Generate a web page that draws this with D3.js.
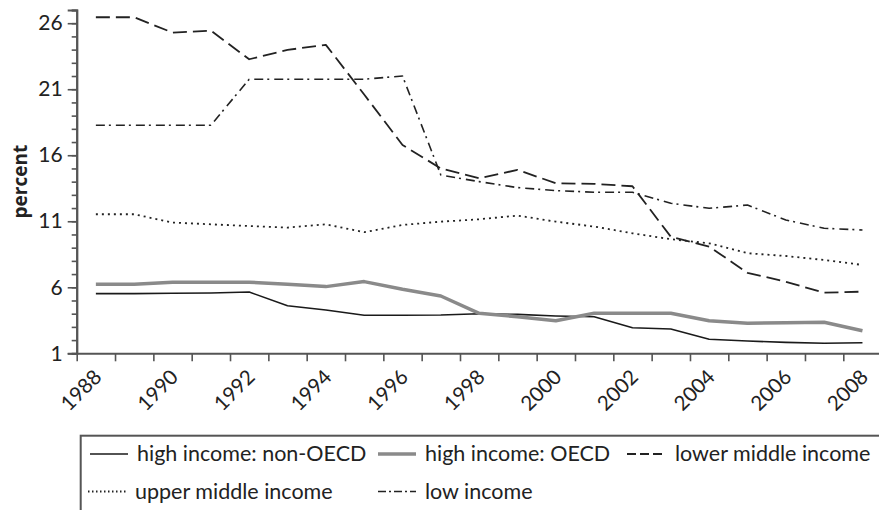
<!DOCTYPE html>
<html>
<head>
<meta charset="utf-8">
<script src="https://cdn.jsdelivr.net/npm/d3@7"></script>
<style>
  body { margin: 0; background: #fff; }
  svg { display: block; }
  text { font-family: Lato, "Open Sans", sans-serif; fill: #222; }
</style>
</head>
<body>
<svg id="chart" width="879" height="510"></svg>
<script>
// data
var years = d3.range(1988, 2009);
var yearLabels = ["1988", "1990", "1992", "1994", "1996", "1998", "2000", "2002", "2004", "2006", "2008"];
var yTicks = [1, 6, 11, 16, 21, 26];

var highNonOECD = [5.52, 5.52, 5.55, 5.57, 5.64, 4.6, 4.28, 3.88, 3.88, 3.9, 4.0, 3.95, 3.83, 3.77, 2.94, 2.84, 2.06, 1.93, 1.83, 1.76, 1.8];
var highOECD = [6.23, 6.23, 6.38, 6.38, 6.38, 6.23, 6.05, 6.43, 5.85, 5.34, 4.03, 3.77, 3.47, 4.03, 4.03, 4.03, 3.47, 3.27, 3.32, 3.35, 2.71];
var lowerMiddle = [26.45, 26.45, 25.29, 25.44, 23.27, 23.98, 24.36, 20.6, 16.78, 15.0, 14.26, 14.89, 13.88, 13.83, 13.65, 9.83, 9.08, 7.1, 6.42, 5.59, 5.67];
var upperMiddle = [11.53, 11.53, 10.9, 10.77, 10.64, 10.52, 10.77, 10.17, 10.72, 10.97, 11.15, 11.43, 10.97, 10.6, 10.09, 9.64, 9.33, 8.58, 8.37, 8.07, 7.69];
var lowIncome = [18.27, 18.27, 18.27, 18.27, 21.76, 21.76, 21.76, 21.76, 22.0, 14.5, 14.0, 13.55, 13.32, 13.2, 13.2, 12.36, 11.98, 12.23, 11.1, 10.47, 10.34];

var seriesNames = ["high income: non-OECD", "high income: OECD", "lower middle income", "upper middle income", "low income"];

(function () {
    // dash: pattern in the plot, keyDash: shorter pattern used in the legend
    var styles = [
        { color: "#1a1a1a", width: 1.6, dash: null, keyDash: null },
        { color: "#8a8a8a", width: 3.5, dash: null, keyDash: null },
        { color: "#222", width: 1.8, dash: "14,6", keyDash: "9,4" },
        { color: "#222", width: 1.8, dash: "2,4", keyDash: "1.5,2.5" },
        { color: "#222", width: 1.6, dash: "9,4,2,5", keyDash: "8,3,2,3" }
    ];
    var allSeries = [highNonOECD, highOECD, lowerMiddle, upperMiddle, lowIncome];

    var svg = d3.select("#chart");
    var left = 76.7, plotTop = 10, bottom = 353.3;
    var step = 38.33;

    // years sit in the middle of each tick interval
    var x = d3.scaleLinear().domain([1987.5, 2008.5]).range([left, left + 21 * step]);
    var y = d3.scaleLinear().domain([1, 27]).range([bottom, plotTop]);

    var axisColor = "#555";

    // y axis with minor ticks
    var yAxis = svg.append("g").attr("transform", "translate(" + left + ",0)");
    yAxis.call(d3.axisLeft(y).tickValues(d3.range(1, 28)).tickSize(5).tickFormat(""));
    yAxis.append("g").call(d3.axisLeft(y).tickValues(yTicks).tickSize(9).tickPadding(5).tickFormat(d3.format("d")));
    yAxis.selectAll("path.domain").attr("stroke", axisColor).attr("stroke-width", 2);
    yAxis.selectAll("line").attr("stroke", axisColor).attr("stroke-width", 1.6);
    yAxis.selectAll("text").style("font-size", "21px").attr("fill", "#222");

    // x axis: ticks at interval edges, labels at even years
    var xAxis = svg.append("g").attr("transform", "translate(0," + bottom + ")");
    xAxis.call(d3.axisBottom(x).tickValues(d3.range(1987.5, 2009, 1)).tickSize(8).tickSizeOuter(0).tickFormat(""));
    xAxis.selectAll("path.domain").attr("stroke", axisColor).attr("stroke-width", 2);
    xAxis.selectAll("line").attr("stroke", axisColor).attr("stroke-width", 1.6);

    svg.append("g").selectAll("text")
        .data(yearLabels)
        .enter().append("text")
        .attr("transform", function (d) { return "translate(" + (x(+d) + 7) + "," + (bottom + 25) + ") rotate(-45)"; })
        .attr("text-anchor", "end")
        .style("font-size", "20.5px")
        .text(function (d) { return d; });

    svg.append("text")
        .attr("transform", "translate(27," + ((plotTop + bottom) / 2) + ") rotate(-90)")
        .attr("text-anchor", "middle")
        .style("font-family", "'Open Sans', sans-serif")
        .style("font-size", "19px")
        .style("font-weight", "bold")
        .text("percent");

    var line = d3.line()
        .x(function (d, i) { return x(years[i]); })
        .y(function (d) { return y(d); });

    svg.append("g").selectAll("path")
        .data(allSeries)
        .enter().append("path")
        .attr("d", line)
        .attr("fill", "none")
        .attr("stroke", function (d, i) { return styles[i].color; })
        .attr("stroke-width", function (d, i) { return styles[i].width; })
        .attr("stroke-dasharray", function (d, i) { return styles[i].dash; })
        .attr("stroke-linejoin", "round");

    // legend
    var legend = svg.append("g");
    legend.append("rect")
        .attr("x", 80.7).attr("y", 435.7)
        .attr("width", 820).attr("height", 100)
        .attr("fill", "none").attr("stroke", axisColor).attr("stroke-width", 2);

    var legendPos = [[90, 454], [378, 454], [627, 454], [88, 491.5], [378, 491.5]];
    var item = legend.selectAll("g.item")
        .data(seriesNames)
        .enter().append("g")
        .attr("class", "item")
        .attr("transform", function (d, i) { return "translate(" + legendPos[i][0] + "," + legendPos[i][1] + ")"; });

    item.append("line")
        .attr("x1", 0).attr("x2", 38).attr("y1", 0).attr("y2", 0)
        .attr("stroke", function (d, i) { return styles[i].color; })
        .attr("stroke-width", function (d, i) { return styles[i].width; })
        .attr("stroke-dasharray", function (d, i) { return styles[i].keyDash; });

    item.append("text")
        .attr("x", function (d, i) { return i == 2 ? 48 : 47; })
        .attr("y", 7)
        .style("font-size", "21.5px")
        .text(function (d) { return d; });
})();
</script>
</body>
</html>
